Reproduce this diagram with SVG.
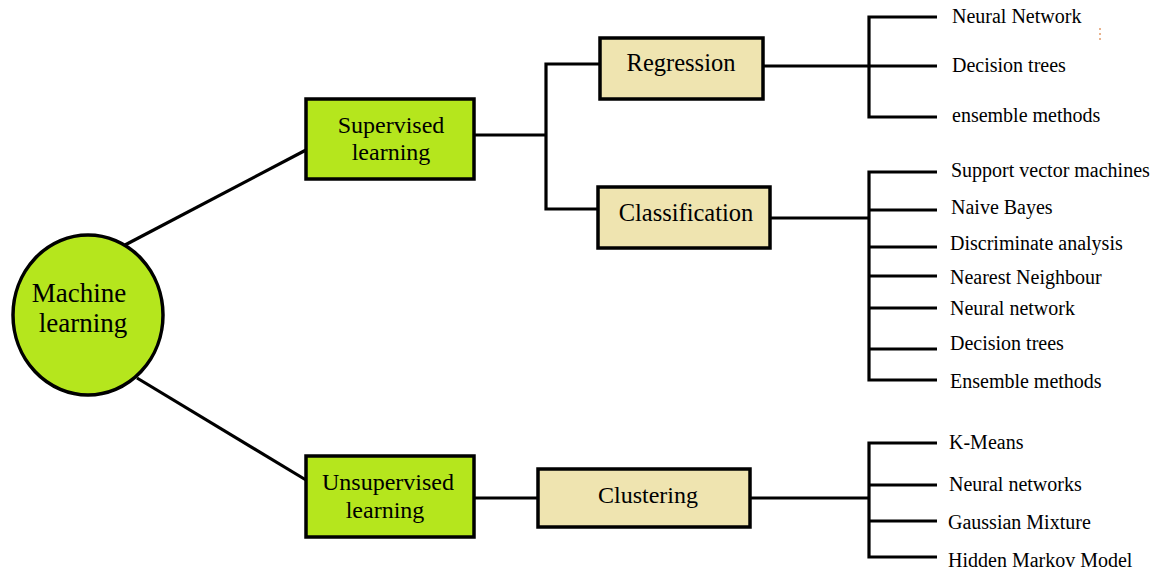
<svg xmlns="http://www.w3.org/2000/svg" width="1157" height="569" viewBox="0 0 1157 569">
<style>
.ln{stroke:#000;stroke-width:3.2;fill:none}
.green{fill:#b5e61d;stroke:#000;stroke-width:3.5}
.tan{fill:#efe4b0;stroke:#000;stroke-width:3.5}
.lbl{font-family:"Liberation Serif","Times New Roman",serif;font-size:24px;fill:#000;text-anchor:middle}
.leaf{font-family:"Liberation Serif","Times New Roman",serif;font-size:20px;fill:#000}
</style>
<rect width="1157" height="569" fill="#fff"/>
<g id="connectors">
<line class="ln" x1="125" y1="245" x2="306" y2="150"/>
<line class="ln" x1="137" y1="378" x2="306" y2="480"/>
<polyline class="ln" points="474,135 546,135"/>
<polyline class="ln" points="600,64 546,64 546,209 598,209"/>
<line class="ln" x1="763" y1="66" x2="869" y2="66"/>
<polyline class="ln" points="937,17 869,17 869,117 937,117"/>
<line class="ln" x1="869" y1="66" x2="937" y2="66"/>
<line class="ln" x1="770" y1="218" x2="869" y2="218"/>
<polyline class="ln" points="937,172 869,172 869,380 937,380"/>
<line class="ln" x1="869" y1="210" x2="937" y2="210"/>
<line class="ln" x1="869" y1="247" x2="937" y2="247"/>
<line class="ln" x1="869" y1="276" x2="937" y2="276"/>
<line class="ln" x1="869" y1="308" x2="937" y2="308"/>
<line class="ln" x1="869" y1="349" x2="937" y2="349"/>
<line class="ln" x1="474" y1="498" x2="538" y2="498"/>
<line class="ln" x1="750" y1="498" x2="869" y2="498"/>
<polyline class="ln" points="937,443 869,443 869,557 937,557"/>
<line class="ln" x1="869" y1="485" x2="937" y2="485"/>
<line class="ln" x1="869" y1="521" x2="937" y2="521"/>
</g>
<g id="machine-learning">
<ellipse cx="88" cy="315" rx="75" ry="80" fill="#b5e61d" stroke="#000" stroke-width="3.5"/>
<text class="lbl" x="79" y="302" style="font-size:27px">Machine</text>
<text class="lbl" x="83" y="332" style="font-size:27px">learning</text>
</g>
<g id="supervised">
<rect class="green" x="306" y="99" width="168" height="80"/>
<text class="lbl" x="391" y="133">Supervised</text>
<text class="lbl" x="391" y="160">learning</text>
</g>
<g id="unsupervised">
<rect class="green" x="306" y="456" width="168" height="81"/>
<text class="lbl" x="388" y="490">Unsupervised</text>
<text class="lbl" x="385" y="518">learning</text>
</g>
<g id="regression">
<rect class="tan" x="600" y="38" width="163" height="61"/>
<text class="lbl" x="681" y="71" style="font-size:24.5px">Regression</text>
</g>
<g id="classification">
<rect class="tan" x="598" y="187" width="172" height="61"/>
<text class="lbl" x="686" y="221" style="font-size:24.5px">Classification</text>
</g>
<g id="clustering">
<rect class="tan" x="538" y="469" width="212" height="58"/>
<text class="lbl" x="648" y="503">Clustering</text>
</g>
<g id="regression-methods">
<text class="leaf" x="952" y="23">Neural Network</text>
<text class="leaf" x="952" y="72">Decision trees</text>
<text class="leaf" x="952" y="122">ensemble methods</text>
<line x1="1100" y1="28" x2="1100" y2="41" stroke="#d2691e" stroke-width="1" stroke-dasharray="2,3"/>
</g>
<g id="classification-methods">
<text class="leaf" x="951" y="177">Support vector machines</text>
<text class="leaf" x="951" y="214">Naive Bayes</text>
<text class="leaf" x="950" y="250">Discriminate analysis</text>
<text class="leaf" x="950" y="284">Nearest Neighbour</text>
<text class="leaf" x="950" y="315">Neural network</text>
<text class="leaf" x="950" y="350">Decision trees</text>
<text class="leaf" x="950" y="388">Ensemble methods</text>
</g>
<g id="clustering-methods">
<text class="leaf" x="949" y="449">K-Means</text>
<text class="leaf" x="949" y="491">Neural networks</text>
<text class="leaf" x="948" y="529">Gaussian Mixture</text>
<text class="leaf" x="948" y="567">Hidden Markov Model</text>
</g>
</svg>
